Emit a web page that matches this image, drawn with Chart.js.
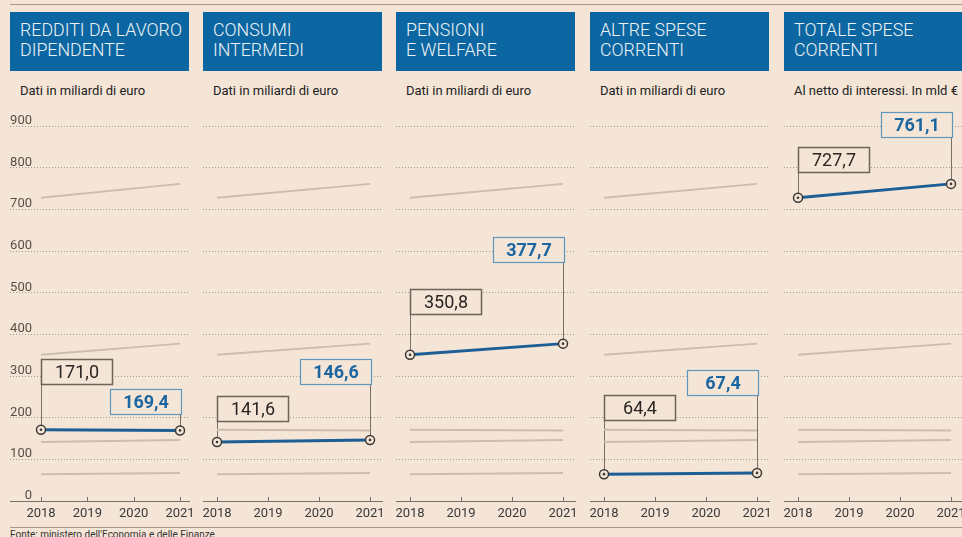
<!DOCTYPE html>
<html>
<head>
<meta charset="utf-8">
<script src="https://cdn.jsdelivr.net/npm/chart.js@4.4.1/dist/chart.umd.min.js"></script>
<style>
body{margin:0;width:962px;height:537px;overflow:hidden;background:#f5e5d7;font-family:Roboto,"DejaVu Sans",sans-serif;position:relative}
.title{position:absolute;top:12px;height:59px;width:179px;background:#0c66a1;color:#eef3f7;font-size:17.8px;font-weight:300;line-height:20px;box-sizing:border-box;padding:8px 0 0 10px;white-space:nowrap;overflow:hidden}
.sub{position:absolute;top:83px;font-size:13px;line-height:16px;color:#222;white-space:nowrap}
canvas{position:absolute;top:110px}
.rule{position:absolute;left:10px;right:0;height:1px;background:#a99a8c}
.src{position:absolute;left:10px;top:529px;font-size:10px;color:#333;white-space:nowrap}
</style>
</head>
<body>
<div class="rule" style="top:4px"></div>
<div class="rule" style="top:527px"></div>
<div class="src">Fonte: ministero dell'Economia e delle Finanze</div>
<script>
// data
const years = [2018, 2019, 2020, 2021];
const titles = [
  ["REDDITI DA LAVORO", "DIPENDENTE"],
  ["CONSUMI", "INTERMEDI"],
  ["PENSIONI", "E WELFARE"],
  ["ALTRE SPESE", "CORRENTI"],
  ["TOTALE SPESE", "CORRENTI"]
];
const subtitles = [
  "Dati in miliardi di euro",
  "Dati in miliardi di euro",
  "Dati in miliardi di euro",
  "Dati in miliardi di euro",
  "Al netto di interessi. In mld €"
];
const values2018 = [171.0, 141.6, 350.8, 64.4, 727.7];
const values2021 = [169.4, 146.6, 377.7, 67.4, 761.1];
const yTicks = [0, 100, 200, 300, 400, 500, 600, 700, 800, 900];

// layout
const panelLeft = [10, 203, 396, 590, 784];
const panelWidth = 179;
const liftStart = [46, 21, 41, 54, 26];   // px between 2018 point and its label box
const liftEnd = [16, 56, 82, 78, 47];     // px between 2021 point and its label box
const BG = "#f5e5d7";

const fmt = v => v.toFixed(1).replace(".", ",");

const annot = {
  id: "annot",
  beforeDatasetsDraw(chart, args, o) {
    const ctx = chart.ctx, x = chart.scales.x, y = chart.scales.y;
    const i = o.panel;
    const x0 = Math.round(x.getPixelForValue(2018)) + 0.5;
    const x1 = Math.round(x.getPixelForValue(2021)) + 0.5;
    const y0 = y.getPixelForValue(values2018[i]);
    const y1 = y.getPixelForValue(values2021[i]);
    ctx.save();
    ctx.lineWidth = 1;
    ctx.strokeStyle = "#7a6f66";
    ctx.beginPath();
    ctx.moveTo(x0, y0 - liftStart[i]); ctx.lineTo(x0, y0);
    ctx.moveTo(x1, y1 - liftEnd[i]); ctx.lineTo(x1, y1);
    ctx.stroke();
    ctx.restore();
  },
  afterDatasetsDraw(chart, args, o) {
    const ctx = chart.ctx, x = chart.scales.x, y = chart.scales.y;
    const i = o.panel;
    const w = 71, h = 25;
    const x0 = Math.round(x.getPixelForValue(2018)) + 0.5;
    const x1 = Math.round(x.getPixelForValue(2021)) + 0.5;
    const b0 = Math.round(y.getPixelForValue(values2018[i]) - liftStart[i]) + 0.5;
    const b1 = Math.round(y.getPixelForValue(values2021[i]) - liftEnd[i]) + 0.5;
    ctx.save();
    ctx.textAlign = "center";
    ctx.textBaseline = "middle";
    // first year box
    ctx.fillStyle = BG;
    ctx.fillRect(x0, b0 - h, w, h);
    ctx.lineWidth = 1.5;
    ctx.strokeStyle = "#6e625a";
    ctx.strokeRect(x0, b0 - h, w, h);
    ctx.fillStyle = "#2a2522";
    ctx.font = "18px Roboto";
    ctx.fillText(fmt(values2018[i]), x0 + w / 2, b0 - h / 2 + 1);
    // last year box
    ctx.fillStyle = BG;
    ctx.fillRect(x1 + 1 - w, b1 - h, w, h);
    ctx.lineWidth = 1.2;
    ctx.strokeStyle = "#5d97be";
    ctx.strokeRect(x1 + 1 - w, b1 - h, w, h);
    ctx.fillStyle = "#1b65a0";
    ctx.font = "bold 18px Roboto";
    ctx.fillText(fmt(values2021[i]), x1 + 1 - w / 2, b1 - h / 2 + 1);
    ctx.restore();
  },
  afterDraw(chart, args, o) {
    const ctx = chart.ctx, x = chart.scales.x, y = chart.scales.y;
    const ay = Math.round(y.getPixelForValue(0));
    ctx.save();
    ctx.strokeStyle = "#77706a";
    ctx.lineWidth = 1;
    ctx.beginPath();
    years.forEach(v => {
      const px = Math.round(x.getPixelForValue(v)) + 0.5;
      ctx.moveTo(px, ay - 4); ctx.lineTo(px, ay + 1);
    });
    ctx.stroke();
    if (o.panel === 0) {
      ctx.fillStyle = "#555049";
      ctx.font = "13px Roboto";
      ctx.textAlign = "right";
      ctx.textBaseline = "alphabetic";
      yTicks.forEach(v => {
        ctx.fillText(String(v), chart.chartArea.left + 22, y.getPixelForValue(v) - 2);
      });
    }
    ctx.restore();
  }
};

panelLeft.forEach((left, i) => {
  const t = document.createElement("div");
  t.className = "title";
  t.style.left = left + "px";
  t.innerHTML = titles[i].join("<br>");
  document.body.appendChild(t);

  const s = document.createElement("div");
  s.className = "sub";
  s.style.left = (left + 10) + "px";
  s.textContent = subtitles[i];
  document.body.appendChild(s);

  const cv = document.createElement("canvas");
  cv.width = panelWidth + 10;
  cv.height = 417;
  cv.style.left = left + "px";
  document.body.appendChild(cv);

  const main = [{x: 2018, y: values2018[i]}, {x: 2021, y: values2021[i]}];
  const ghosts = [];
  values2018.forEach((v, j) => {
    if (j === i) return;
    ghosts.push({
      data: [{x: 2018, y: values2018[j]}, {x: 2021, y: values2021[j]}],
      borderColor: "#cdbdae", borderWidth: 2, pointRadius: 0, order: 2
    });
  });

  new Chart(cv, {
    type: "line",
    data: {
      datasets: [
        {data: main, borderColor: "#1d5f95", borderWidth: 3, pointRadius: 4.5,
         pointBorderWidth: 1.5, pointBorderColor: "#3b3835", pointBackgroundColor: BG, order: 1},
        {data: main, showLine: false, pointRadius: 1.3, pointBorderWidth: 0,
         pointBackgroundColor: "#3b3835", order: 0},
        ...ghosts
      ]
    },
    options: {
      responsive: false,
      devicePixelRatio: 1,
      animation: false,
      events: [],
      layout: {autoPadding: false, padding: {top: 16, left: 0, right: 10, bottom: 0}},
      plugins: {legend: {display: false}, tooltip: {enabled: false}, annot: {panel: i}},
      scales: {
        x: {
          type: "linear",
          min: i === 0 ? 2017.331 : 2017.725,
          max: i === 0 ? 2021.194 : 2021.235,
          afterBuildTicks: sc => { sc.ticks = years.map(v => ({value: v})); },
          afterFit: sc => { sc.height = 26; sc.paddingLeft = 0; sc.paddingRight = 0; },
          ticks: {padding: 5, color: "#3a3a3a", font: {size: 13, family: "Roboto"}, callback: v => String(v), autoSkip: false, maxRotation: 0},
          grid: {display: false, drawTicks: false},
          border: {color: "#77706a", width: 1}
        },
        y: {
          min: 0, max: 900,
          afterBuildTicks: sc => { sc.ticks = yTicks.map(v => ({value: v})); },
          afterFit: sc => { sc.width = 0; sc.paddingTop = 0; sc.paddingBottom = 0; },
          ticks: {display: false},
          grid: {drawTicks: false, color: "#a89a8c", lineWidth: 1},
          border: {display: false, dash: [1, 2]}
        }
      }
    },
    plugins: [annot]
  });
});
</script>
</body>
</html>
